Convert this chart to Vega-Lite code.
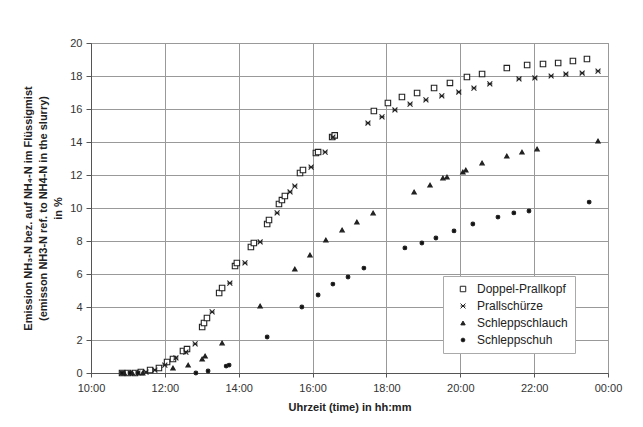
{
  "$schema": "https://vega.github.io/schema/vega-lite/v6.json",
  "width": 517,
  "height": 330,
  "autosize": {"type": "none"},
  "padding": {"left": 91, "top": 43, "right": 35, "bottom": 54},
  "background": "white",
  "config": {
    "font": "Liberation Sans",
    "view": {"stroke": "#888", "strokeWidth": 1}
  },
  "datasets": {
    "pts": [
      {"s": "Doppel-Prallkopf", "t": 10.84, "v": 0},
      {"s": "Doppel-Prallkopf", "t": 11.0, "v": 0},
      {"s": "Doppel-Prallkopf", "t": 11.19, "v": 0},
      {"s": "Doppel-Prallkopf", "t": 11.35, "v": 0.06},
      {"s": "Doppel-Prallkopf", "t": 11.6, "v": 0.18},
      {"s": "Doppel-Prallkopf", "t": 11.84, "v": 0.3},
      {"s": "Doppel-Prallkopf", "t": 12.06, "v": 0.67},
      {"s": "Doppel-Prallkopf", "t": 12.22, "v": 0.85},
      {"s": "Doppel-Prallkopf", "t": 12.49, "v": 1.33},
      {"s": "Doppel-Prallkopf", "t": 12.6, "v": 1.45},
      {"s": "Doppel-Prallkopf", "t": 13.01, "v": 2.79},
      {"s": "Doppel-Prallkopf", "t": 13.06, "v": 3.03},
      {"s": "Doppel-Prallkopf", "t": 13.14, "v": 3.33},
      {"s": "Doppel-Prallkopf", "t": 13.47, "v": 4.85},
      {"s": "Doppel-Prallkopf", "t": 13.55, "v": 5.15},
      {"s": "Doppel-Prallkopf", "t": 13.9, "v": 6.48},
      {"s": "Doppel-Prallkopf", "t": 13.95, "v": 6.67},
      {"s": "Doppel-Prallkopf", "t": 14.33, "v": 7.64},
      {"s": "Doppel-Prallkopf", "t": 14.41, "v": 7.88},
      {"s": "Doppel-Prallkopf", "t": 14.77, "v": 9.03},
      {"s": "Doppel-Prallkopf", "t": 14.82, "v": 9.27},
      {"s": "Doppel-Prallkopf", "t": 15.09, "v": 10.24},
      {"s": "Doppel-Prallkopf", "t": 15.17, "v": 10.48},
      {"s": "Doppel-Prallkopf", "t": 15.25, "v": 10.73},
      {"s": "Doppel-Prallkopf", "t": 15.66, "v": 12.12},
      {"s": "Doppel-Prallkopf", "t": 15.74, "v": 12.3},
      {"s": "Doppel-Prallkopf", "t": 16.09, "v": 13.33},
      {"s": "Doppel-Prallkopf", "t": 16.15, "v": 13.39},
      {"s": "Doppel-Prallkopf", "t": 16.53, "v": 14.3},
      {"s": "Doppel-Prallkopf", "t": 16.6, "v": 14.4},
      {"s": "Doppel-Prallkopf", "t": 17.66, "v": 15.88},
      {"s": "Doppel-Prallkopf", "t": 18.04, "v": 16.36},
      {"s": "Doppel-Prallkopf", "t": 18.42, "v": 16.73},
      {"s": "Doppel-Prallkopf", "t": 18.83, "v": 16.97},
      {"s": "Doppel-Prallkopf", "t": 19.29, "v": 17.27},
      {"s": "Doppel-Prallkopf", "t": 19.72, "v": 17.58},
      {"s": "Doppel-Prallkopf", "t": 20.18, "v": 17.94},
      {"s": "Doppel-Prallkopf", "t": 20.59, "v": 18.12},
      {"s": "Doppel-Prallkopf", "t": 21.26, "v": 18.48},
      {"s": "Doppel-Prallkopf", "t": 21.81, "v": 18.67},
      {"s": "Doppel-Prallkopf", "t": 22.24, "v": 18.73},
      {"s": "Doppel-Prallkopf", "t": 22.65, "v": 18.79},
      {"s": "Doppel-Prallkopf", "t": 23.05, "v": 18.91},
      {"s": "Doppel-Prallkopf", "t": 23.43, "v": 19.03},
      {"s": "Prallschürze", "t": 10.84, "v": 0},
      {"s": "Prallschürze", "t": 11.06, "v": 0},
      {"s": "Prallschürze", "t": 11.27, "v": 0},
      {"s": "Prallschürze", "t": 11.49, "v": 0.06},
      {"s": "Prallschürze", "t": 11.73, "v": 0.18},
      {"s": "Prallschürze", "t": 12.0, "v": 0.48},
      {"s": "Prallschürze", "t": 12.3, "v": 0.91},
      {"s": "Prallschürze", "t": 12.57, "v": 1.27},
      {"s": "Prallschürze", "t": 12.82, "v": 1.76},
      {"s": "Prallschürze", "t": 13.28, "v": 3.7},
      {"s": "Prallschürze", "t": 13.76, "v": 5.45},
      {"s": "Prallschürze", "t": 14.17, "v": 6.67},
      {"s": "Prallschürze", "t": 14.58, "v": 7.94},
      {"s": "Prallschürze", "t": 15.04, "v": 9.7},
      {"s": "Prallschürze", "t": 15.39, "v": 10.97},
      {"s": "Prallschürze", "t": 15.52, "v": 11.33},
      {"s": "Prallschürze", "t": 15.96, "v": 12.48},
      {"s": "Prallschürze", "t": 16.34, "v": 13.39},
      {"s": "Prallschürze", "t": 16.55, "v": 14.3},
      {"s": "Prallschürze", "t": 17.5, "v": 15.15},
      {"s": "Prallschürze", "t": 17.88, "v": 15.52},
      {"s": "Prallschürze", "t": 18.23, "v": 15.94},
      {"s": "Prallschürze", "t": 18.64, "v": 16.3},
      {"s": "Prallschürze", "t": 19.07, "v": 16.55},
      {"s": "Prallschürze", "t": 19.5, "v": 16.79},
      {"s": "Prallschürze", "t": 19.96, "v": 17.03},
      {"s": "Prallschürze", "t": 20.37, "v": 17.27},
      {"s": "Prallschürze", "t": 20.8, "v": 17.52},
      {"s": "Prallschürze", "t": 21.59, "v": 17.82},
      {"s": "Prallschürze", "t": 22.02, "v": 17.88},
      {"s": "Prallschürze", "t": 22.46, "v": 18.0},
      {"s": "Prallschürze", "t": 22.86, "v": 18.12},
      {"s": "Prallschürze", "t": 23.3, "v": 18.18},
      {"s": "Prallschürze", "t": 23.73, "v": 18.3},
      {"s": "Schleppschlauch", "t": 10.9, "v": 0},
      {"s": "Schleppschlauch", "t": 11.12, "v": 0},
      {"s": "Schleppschlauch", "t": 11.4, "v": 0},
      {"s": "Schleppschlauch", "t": 12.22, "v": 0.3},
      {"s": "Schleppschlauch", "t": 12.63, "v": 0.48},
      {"s": "Schleppschlauch", "t": 13.01, "v": 0.85},
      {"s": "Schleppschlauch", "t": 13.09, "v": 1.03},
      {"s": "Schleppschlauch", "t": 13.55, "v": 1.82},
      {"s": "Schleppschlauch", "t": 14.58, "v": 4.06},
      {"s": "Schleppschlauch", "t": 15.52, "v": 6.3},
      {"s": "Schleppschlauch", "t": 15.93, "v": 7.15},
      {"s": "Schleppschlauch", "t": 16.36, "v": 8.06},
      {"s": "Schleppschlauch", "t": 16.8, "v": 8.67},
      {"s": "Schleppschlauch", "t": 17.2, "v": 9.15},
      {"s": "Schleppschlauch", "t": 17.64, "v": 9.7},
      {"s": "Schleppschlauch", "t": 18.75, "v": 10.97},
      {"s": "Schleppschlauch", "t": 19.18, "v": 11.39},
      {"s": "Schleppschlauch", "t": 19.53, "v": 11.82},
      {"s": "Schleppschlauch", "t": 19.64, "v": 11.88},
      {"s": "Schleppschlauch", "t": 20.07, "v": 12.18},
      {"s": "Schleppschlauch", "t": 20.15, "v": 12.3},
      {"s": "Schleppschlauch", "t": 20.59, "v": 12.73},
      {"s": "Schleppschlauch", "t": 21.26, "v": 13.15},
      {"s": "Schleppschlauch", "t": 21.67, "v": 13.39},
      {"s": "Schleppschlauch", "t": 22.08, "v": 13.58},
      {"s": "Schleppschlauch", "t": 23.73, "v": 14.06},
      {"s": "Schleppschuh", "t": 10.84, "v": 0},
      {"s": "Schleppschuh", "t": 11.06, "v": 0},
      {"s": "Schleppschuh", "t": 11.27, "v": 0},
      {"s": "Schleppschuh", "t": 12.84, "v": 0},
      {"s": "Schleppschuh", "t": 13.17, "v": 0.12},
      {"s": "Schleppschuh", "t": 13.66, "v": 0.42},
      {"s": "Schleppschuh", "t": 13.74, "v": 0.48},
      {"s": "Schleppschuh", "t": 14.77, "v": 2.18},
      {"s": "Schleppschuh", "t": 15.71, "v": 4.0},
      {"s": "Schleppschuh", "t": 16.15, "v": 4.73},
      {"s": "Schleppschuh", "t": 16.55, "v": 5.39},
      {"s": "Schleppschuh", "t": 16.96, "v": 5.82},
      {"s": "Schleppschuh", "t": 17.39, "v": 6.36},
      {"s": "Schleppschuh", "t": 18.5, "v": 7.58},
      {"s": "Schleppschuh", "t": 18.96, "v": 7.88},
      {"s": "Schleppschuh", "t": 19.34, "v": 8.18},
      {"s": "Schleppschuh", "t": 19.83, "v": 8.61},
      {"s": "Schleppschuh", "t": 20.34, "v": 9.03},
      {"s": "Schleppschuh", "t": 21.02, "v": 9.45},
      {"s": "Schleppschuh", "t": 21.45, "v": 9.7},
      {"s": "Schleppschuh", "t": 21.86, "v": 9.82},
      {"s": "Schleppschuh", "t": 23.49, "v": 10.36}
    ]
  },
  "data": {"name": "pts"},
  "mark": {"type": "point", "filled": false, "strokeWidth": 1.1, "opacity": 1},
  "encoding": {
    "x": {
      "field": "t",
      "type": "quantitative",
      "scale": {"domain": [10, 24], "nice": false},
      "axis": {
        "values": [10, 12, 14, 16, 18, 20, 22, 24],
        "labelExpr": "(datum.value % 24 < 10 ? '0' : '') + (datum.value % 24) + ':00'",
        "title": "Uhrzeit (time) in hh:mm",
        "titleFontSize": 11,
        "titleFontWeight": "bold",
        "titleColor": "#222",
        "titlePadding": 8,
        "labelFontSize": 11,
        "labelColor": "#333",
        "labelPadding": 5,
        "labelFlush": false,
        "domainColor": "#555",
        "tickColor": "#555",
        "tickSize": 4,
        "gridColor": "#999",
        "gridWidth": 1
      }
    },
    "y": {
      "field": "v",
      "type": "quantitative",
      "scale": {"domain": [0, 20], "nice": false},
      "axis": {
        "values": [0, 2, 4, 6, 8, 10, 12, 14, 16, 18, 20],
        "title": ["Emission NH₃-N bez. auf NH₄-N im Flüssigmist", "(emisson NH3-N ref. to NH4-N in the slurry)", "in %"],
        "titleFontSize": 11,
        "titleFontWeight": "bold",
        "titleColor": "#222",
        "titleLineHeight": 15,
        "titlePadding": 6,
        "labelFontSize": 11,
        "labelColor": "#333",
        "labelPadding": 4,
        "domainColor": "#555",
        "tickColor": "#555",
        "tickSize": 5,
        "gridColor": "#999",
        "gridWidth": 1
      }
    },
    "shape": {
      "field": "s",
      "type": "nominal",
      "scale": {
        "domain": ["Doppel-Prallkopf", "Prallschürze", "Schleppschlauch", "Schleppschuh"],
        "range": ["square", "M-1,-1L1,1M-1,1L1,-1M-1,0L1,0", "triangle-up", "circle"]
      },
      "legend": {
        "title": null,
        "orient": "none",
        "legendX": 352,
        "legendY": 233,
        "fillColor": "white",
        "strokeColor": "#aaa",
        "padding": 7,
        "labelFontSize": 12,
        "labelColor": "#222",
        "symbolStrokeColor": "#222",
        "symbolStrokeWidth": 1,
        "rowPadding": 5,
        "labelOffset": 8,
        "symbolOffset": 7
      }
    },
    "fill": {
      "field": "s",
      "type": "nominal",
      "scale": {
        "domain": ["Doppel-Prallkopf", "Prallschürze", "Schleppschlauch", "Schleppschuh"],
        "range": ["#ffffff", "#222222", "#222222", "#111111"]
      }
    },
    "stroke": {"value": "#222"},
    "size": {
      "field": "s",
      "type": "nominal",
      "scale": {
        "domain": ["Doppel-Prallkopf", "Prallschürze", "Schleppschlauch", "Schleppschuh"],
        "range": [30, 14, 28, 30]
      }
    }
  }
}
